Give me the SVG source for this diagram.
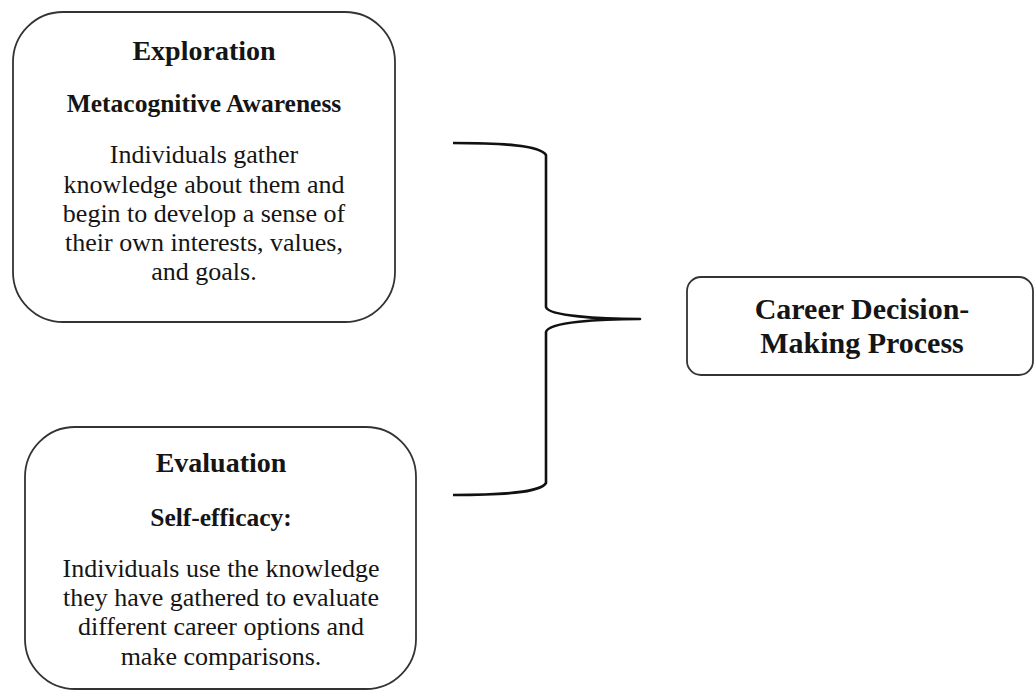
<svg xmlns="http://www.w3.org/2000/svg" width="1034" height="691" viewBox="0 0 1034 691">
<style>
.box{fill:#fff;stroke:#333;stroke-width:1.8}
text{font-family:"Liberation Serif","Times New Roman",serif;fill:#151515;text-anchor:middle}
.t{font-size:28px;font-weight:bold}
.s{font-size:25.5px;font-weight:bold}
.b{font-size:26px}
.c{font-size:30px;font-weight:bold}
.br{fill:none;stroke:#111;stroke-width:2.6;stroke-linejoin:round}
</style>
<rect width="1034" height="691" fill="#fff"/>
<g id="exploration">
<rect class="box" x="13" y="12" width="382" height="310" rx="50" ry="50"/>
<text class="t" x="204" y="60">Exploration</text>
<text class="s" x="204" y="112">Metacognitive Awareness</text>
<text class="b" x="204" y="163">Individuals gather</text>
<text class="b" x="204" y="193">knowledge about them and</text>
<text class="b" x="204" y="222">begin to develop a sense of</text>
<text class="b" x="204" y="251">their own interests, values,</text>
<text class="b" x="204" y="280">and goals.</text>
</g>
<g id="evaluation">
<rect class="box" x="25" y="427" width="391" height="262" rx="50" ry="50"/>
<text class="t" x="221" y="472">Evaluation</text>
<text class="s" x="221" y="526">Self-efficacy:</text>
<text class="b" x="221" y="577">Individuals use the knowledge</text>
<text class="b" x="221" y="606">they have gathered to evaluate</text>
<text class="b" x="221" y="635">different career options and</text>
<text class="b" x="221" y="665">make comparisons.</text>
</g>
<g id="career">
<rect class="box" x="687" y="277" width="346" height="98" rx="14" ry="14"/>
<text class="c" x="862" y="319">Career Decision-</text>
<text class="c" x="862" y="353">Making Process</text>
</g>
<g id="connectors">
<path class="br" d="M453,143 C500,143 540,145 546,155 L546,307 C548,316 600,319 640,319 C600,319 548,322 546,332 L546,483 C540,493 500,495 453,495"/>
</g>
</svg>
